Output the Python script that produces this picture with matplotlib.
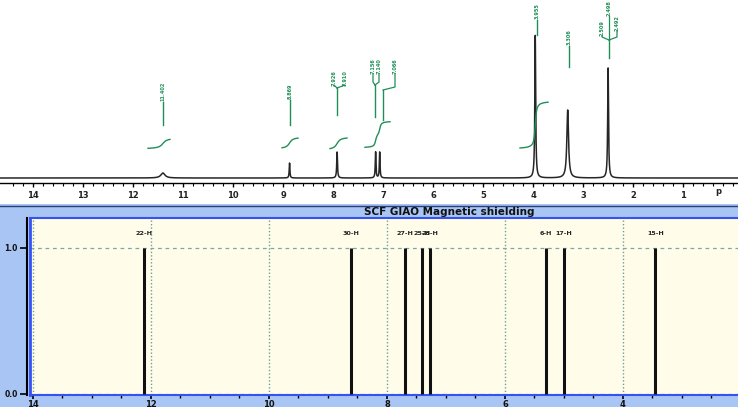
import numpy as np
import matplotlib.pyplot as plt
from matplotlib.patches import Rectangle
from matplotlib.lines import Line2D

# experimental 1H NMR spectrum (ppm, peak height in px above baseline, half width in ppm)
peak_shifts = [11.402, 8.869, 7.918, 7.148, 7.066, 3.955, 3.306, 2.498]
peak_heights = [5, 15, 26, 26, 26, 143, 68, 110]
peak_widths = [0.05, 0.008, 0.009, 0.008, 0.008, 0.01, 0.02, 0.01]

# integral steps: (centre ppm, step height)
integral_groups = [
    [(11.402, 11)],
    [(8.869, 12)],
    [(7.918, 13)],
    [(7.148, 13), (7.066, 14)],
    [(3.955, 48)],
]

# peak pick labels
pick_labels = [
    ['11.402'],
    ['8.869'],
    ['7.926', '7.910'],
    ['7.156', '7.140'],
    ['7.066'],
    ['3.955'],
    ['3.306'],
    ['2.509', '2.498', '2.492'],
]

# calculated GIAO shifts
calc_shifts = [12.12, 8.61, 7.69, 7.41, 7.27, 5.31, 5.00, 3.45]
calc_labels = ['22-H', '30-H', '27-H', '25-H', '28-H', '6-H', '17-H', '15-H']

W, H = 738, 407
GREEN = '#1f8f58'

fig = plt.figure(figsize=(W / 100, H / 100), dpi=100)
fig.patch.set_facecolor('white')


def fx(x):
    return x / W


def fy(y):
    return 1 - y / H


# ---------------- top: experimental spectrum ----------------
ax1 = fig.add_axes([0, fy(183), 1, 183 / H])
ax1.set_xlim(14.66, -0.1)
ax1.set_ylim(0, 183)

ppm = np.linspace(14.66, -0.1, 12000)
spec = np.full_like(ppm, 5.0)
for c, h, w in zip(peak_shifts, peak_heights, peak_widths):
    spec += h * w ** 2 / ((ppm - c) ** 2 + w ** 2)
ax1.plot(ppm, spec, color='#262626', lw=1.1)

# integral curves
integral_base = [34, 34, 33, 35, 34]
integral_span = [(11.7, 11.26), (9.02, 8.7), (8.06, 7.72), (7.36, 6.86), (4.26, 3.7)]
integral_w = [0.06, 0.05, 0.05, 0.02, 0.02]
for grp, base, (p0, p1), w in zip(integral_groups, integral_base, integral_span, integral_w):
    xs = np.linspace(p0, p1, 200)
    ys = np.full_like(xs, float(base))
    for c, hh in grp:
        ys += hh * (0.5 + np.arctan((c - xs) / w) / np.pi)
    ax1.plot(xs, ys, color=GREEN, lw=1.0)


def px2ppm(x):
    return 14 - (x - 33) / 50


def yd(y):
    return 183 - y


# label layout: stem x(px), stem bottom/top y(px), list of (text x px, text bottom y px)
label_layout = [
    (163, 125, 102, [(163, 101)]),
    (290, 125, 100, [(290, 99)]),
    (337, 115, 88, [(334, 86), (345, 86)]),
    (375, 117, 85, [(373, 74), (379, 74)]),
    (383, 120, 90, [(395, 74)]),
    (537, 35, 20, [(537, 19)]),
    (569, 67, 46, [(569, 45)]),
    (609, 58, 40, [(602, 36), (609, 16), (617, 31)]),
]
for (sx, sb, st, texts), names in zip(label_layout, pick_labels):
    ax1.plot([px2ppm(sx)] * 2, [yd(sb), yd(st)], color=GREEN, lw=1.0)
    for (tx, ty), name in zip(texts, names):
        if tx != sx:
            ax1.plot([px2ppm(sx), px2ppm(tx), px2ppm(tx)],
                     [yd(st), yd(st - 3), yd(ty)], color=GREEN, lw=0.9)
        elif ty != st - 1:
            ax1.plot([px2ppm(sx)] * 2, [yd(st), yd(ty)], color=GREEN, lw=0.9)
        ax1.text(px2ppm(tx), yd(ty), name, rotation=90, ha='center', va='bottom',
                 fontsize=3.6, fontweight='bold', color=GREEN)

for s in ['top', 'left', 'right']:
    ax1.spines[s].set_visible(False)
ax1.spines['bottom'].set_linewidth(1.0)
ax1.set_yticks([])
ax1.set_xticks(np.arange(1, 15))
ax1.set_xticks(np.arange(0, 14.6, 0.2), minor=True)
ax1.tick_params(axis='x', which='major', length=3, width=1, pad=2.5, labelsize=6)
ax1.tick_params(axis='x', which='minor', length=2, width=0.8)
for t in ax1.get_xticklabels():
    t.set_fontweight('bold')
    t.set_color('#222222')
ax1.text(0.3, -9, 'p', ha='center', va='center', fontsize=6, fontweight='bold', color='#222222')
ax1.patch.set_alpha(0)

# ---------------- bottom: GIAO panel ----------------
fig.patches.append(Rectangle((0, 0), 1, fy(204), transform=fig.transFigure,
                             facecolor='#a9c5f3', edgecolor='none', zorder=-2))
fig.lines.append(Line2D([0, 1], [fy(206), fy(206)], transform=fig.transFigure,
                        color='#2a3f7a', lw=1.0, zorder=-1))
fig.text(fx(449), fy(212), 'SCF GIAO Magnetic shielding', ha='center', va='center',
         fontsize=7.5, fontweight='bold', color='#111111')

ax2 = fig.add_axes([fx(30), fy(395), 708 / W, (395 - 218) / H])
ax2.set_facecolor('#fffdea')
ax2.set_xlim(14.05, 2.05)
ax2.set_ylim(-0.007, 1.205)

for x in [14, 12, 10, 8, 6, 4]:
    ax2.axvline(x, color='#6e9f96', lw=1.0, ls=(0, (1, 1.5)), zorder=1)
for y in [0.0, 1.0]:
    ax2.axhline(y, color='#7aa8a8', lw=0.9, ls=(0, (3, 3)), zorder=1)

ax2.vlines(calc_shifts, 0, 1.0, color='#111111', lw=2.2, zorder=3)
for x, lab in zip(calc_shifts, calc_labels):
    ax2.text(x, 1.10, lab, ha='center', va='center', fontsize=4.6,
             fontweight='bold', color='#222222')

ax2.spines['right'].set_visible(False)
ax2.spines['top'].set_color('#3552f5')
ax2.spines['top'].set_linewidth(1.5)
ax2.spines['bottom'].set_color('#3552f5')
ax2.spines['bottom'].set_linewidth(1.5)
ax2.spines['left'].set_position(('outward', 2.2))
ax2.spines['left'].set_color('black')
ax2.spines['left'].set_linewidth(1.5)
ax2.add_line(Line2D([0, 0], [0, 1], transform=ax2.transAxes, color='#3552f5',
                    lw=2.0, clip_on=False, zorder=4))

ax2.set_yticks([0.0, 1.0])
ax2.set_yticklabels(['0.0', '1.0'])
ax2.set_xticks([14, 12, 10, 8, 6, 4])
ax2.set_xticks(np.arange(2.5, 14.01, 0.5), minor=True)
ax2.tick_params(axis='y', length=5, width=1.2, pad=1.5, labelsize=5.5)
ax2.tick_params(axis='x', which='major', length=3, width=1.2, pad=0.8, labelsize=6)
ax2.tick_params(axis='x', which='minor', length=2, width=1.0)
for t in ax2.get_xticklabels() + ax2.get_yticklabels():
    t.set_fontweight('bold')
    t.set_color('#111111')

fig.savefig('out.png', dpi=100)
